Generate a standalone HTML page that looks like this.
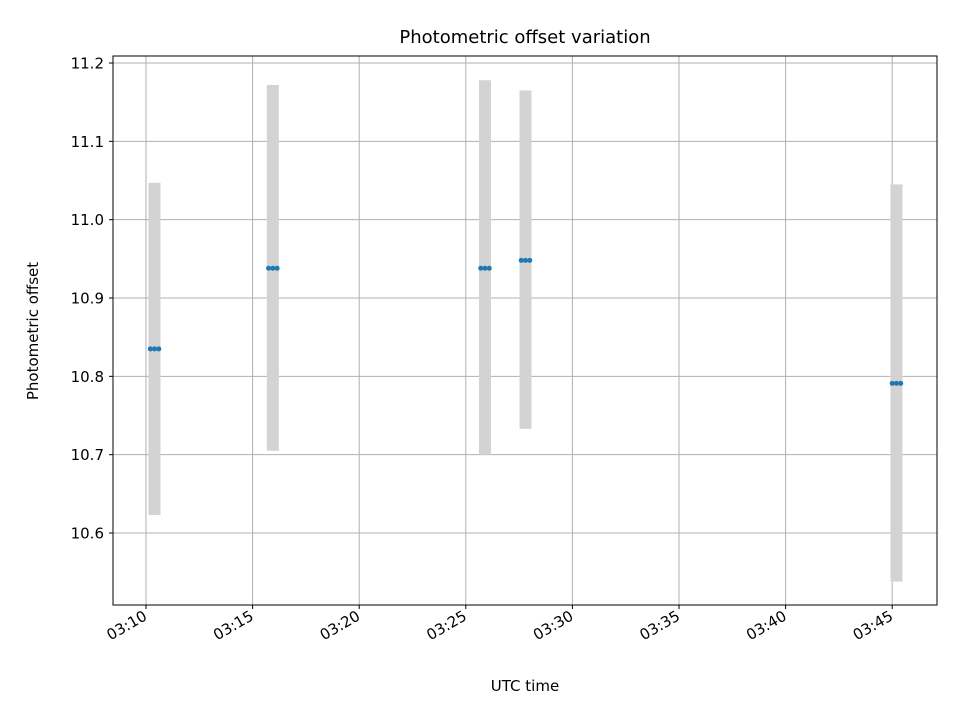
<!DOCTYPE html>
<html><head><meta charset="utf-8"><style>
body{margin:0;background:#fff;font-family:"Liberation Sans","DejaVu Sans",sans-serif}
text{font-family:"DejaVu Sans","Liberation Sans",sans-serif;fill:#000}
</style></head><body>
<svg id="c" width="960" height="720" xmlns="http://www.w3.org/2000/svg"></svg>
<script>
const groupTimes=[10.4,15.95,25.9,27.8,45.2]; // minutes after 03:00
const groupValues=[10.835,10.938,10.938,10.948,10.791];
const errLow=[10.623,10.705,10.700,10.733,10.538];
const errHigh=[11.047,11.172,11.178,11.165,11.045];
const pointOffsets=[-0.2,0,0.2];
const xTicks=[10,15,20,25,30,35,40,45];
const xTickLabels=["03:10","03:15","03:20","03:25","03:30","03:35","03:40","03:45"];
const yTicks=[10.6,10.7,10.8,10.9,11.0,11.1,11.2];
const yTickLabels=["10.6","10.7","10.8","10.9","11.0","11.1","11.2"];
const L=113,R=937,T=56,B=605;
const X=m=>146+(m-10)*(106.6/5);
const Y=v=>533-(v-10.6)*783.3;
const svg=document.getElementById('c');
const NS='http://www.w3.org/2000/svg';
function mk(t,a,p){const e=document.createElementNS(NS,t);for(const k in a)e.setAttribute(k,a[k]);(p||svg).appendChild(e);return e;}
const grid=mk('g',{});


xTicks.forEach((m,i)=>{const x=X(m);
 mk('line',{x1:x,x2:x,y1:T,y2:B,stroke:'#b0b0b0','stroke-width':1},grid);
 mk('line',{x1:x,x2:x,y1:B,y2:B+4,stroke:'#000'});
 const t=mk('text',{x:x+2,y:B+14,'font-size':15,'text-anchor':'end',transform:`rotate(-30 ${x+2} ${B+14})`});
 
 
 t.textContent=xTickLabels[i];});
yTicks.forEach((v,i)=>{const y=Y(v);
 mk('line',{x1:L,x2:R,y1:y,y2:y,stroke:'#b0b0b0','stroke-width':1},grid);
 mk('line',{x1:L-4,x2:L,y1:y,y2:y,stroke:'#000'});
 const t=mk('text',{x:L-9,y:y+5.5,'font-size':15,'text-anchor':'end'});
 
 
 t.textContent=yTickLabels[i];});
groupTimes.forEach((m,i)=>{
 const r=mk('rect',{x:X(m)-6,y:Y(errHigh[i]),width:12,height:Y(errLow[i])-Y(errHigh[i]),fill:'#d3d3d3'});
 
 
});
groupTimes.forEach((m,i)=>{pointOffsets.forEach(o=>{
 const c=mk('circle',{cx:X(m+o),cy:Y(groupValues[i]),r:2.5,fill:'#1f77b4'});
 
 
});});
const f=mk('rect',{x:L,y:T,width:R-L,height:B-T,fill:'none',stroke:'#000','stroke-width':1});


const ti=mk('text',{x:525,y:43,'font-size':18,'text-anchor':'middle'});


ti.textContent='Photometric offset variation';
const xl=mk('text',{x:525,y:691,'font-size':15,'text-anchor':'middle'});


xl.textContent='UTC time';
const yl=mk('text',{x:38,y:331,'font-size':15,'text-anchor':'middle',transform:'rotate(-90 38 331)'});


yl.textContent='Photometric offset';
</script>
</body></html>
